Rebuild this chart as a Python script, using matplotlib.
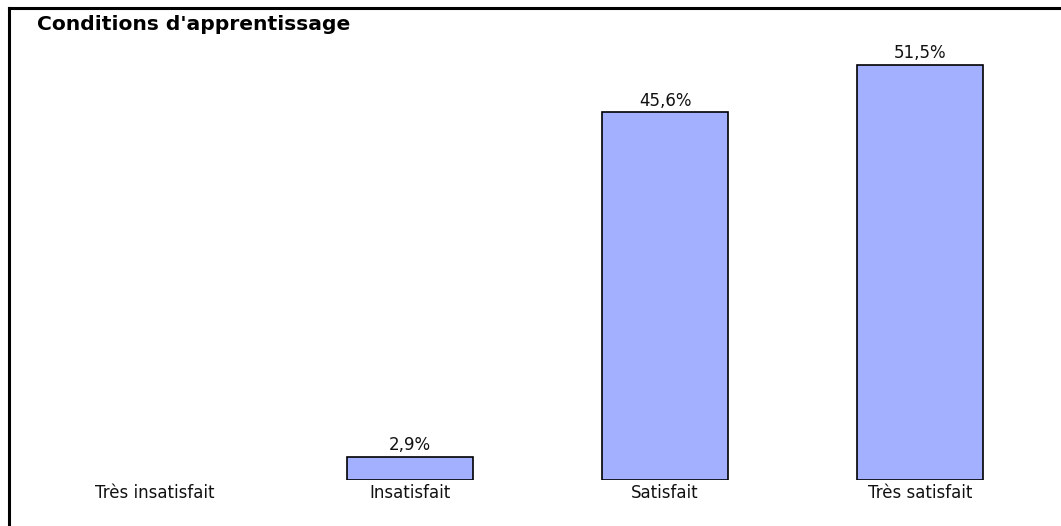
import matplotlib
matplotlib.use("Agg")
import matplotlib.pyplot as plt
from matplotlib.lines import Line2D

categories = ["Très insatisfait", "Insatisfait", "Satisfait", "Très satisfait"]
values = [0.0, 2.9, 45.6, 51.5]
value_labels = ["", "2,9%", "45,6%", "51,5%"]
title = "Conditions d'apprentissage"

plt.rcParams['font.family'] = ['DejaVu Sans']

W, H = 1061, 526
fig = plt.figure(figsize=(W / 100, H / 100), dpi=100)
ax = fig.add_axes([27.5 / W, (H - 480) / H, (1047.5 - 27.5) / W, (480 - 40) / H])

x = list(range(len(categories)))
for xi, v in zip(x, values):
    if v > 0:
        ax.bar(xi, v, width=0.494, color="#A3AFFF", edgecolor="black", linewidth=1.2)
for xi, v, lab in zip(x, values, value_labels):
    if lab:
        ax.annotate(lab, (xi, v), xytext=(0, 2), textcoords="offset points",
                    ha="center", va="bottom", fontsize=12, color="#111111")

ax.set_xlim(-0.5, 3.5)
ax.set_ylim(0, 440 / 8.06)
ax.set_xticks(x)
ax.set_xticklabels(categories, fontsize=12, color="#111111")
ax.tick_params(axis="x", length=0, pad=3)
ax.set_yticks([])
for s in ax.spines.values():
    s.set_visible(False)

fig.text(37 / W, 1 - 25 / H, title, fontsize=14.6, fontweight="bold", ha="left", va="center")

# figure border (top and left visible)
fig.add_artist(Line2D([8.5 / W, 8.5 / W], [0, 1 - 8 / H], color="black", linewidth=2.2, transform=fig.transFigure))
fig.add_artist(Line2D([8.5 / W, 1], [1 - 8 / H, 1 - 8 / H], color="black", linewidth=2.2, transform=fig.transFigure))

fig.savefig("out.png", dpi=100)
